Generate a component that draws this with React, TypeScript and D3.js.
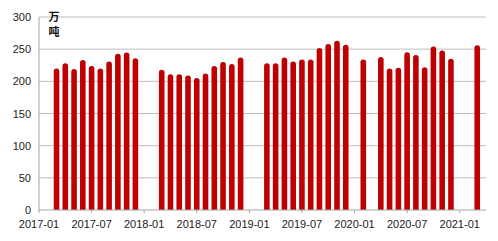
import React from "react";
import * as d3 from "d3";

const months: string[] = [
  "2017-03","2017-04","2017-05","2017-06","2017-07","2017-08","2017-09","2017-10","2017-11","2017-12",
  "2018-03","2018-04","2018-05","2018-06","2018-07","2018-08","2018-09","2018-10","2018-11","2018-12",
  "2019-03","2019-04","2019-05","2019-06","2019-07","2019-08","2019-09","2019-10","2019-11","2019-12",
  "2020-02","2020-04","2020-05","2020-06","2020-07","2020-08","2020-09","2020-10","2020-11","2020-12",
  "2021-03",
];
const values: number[] = [
  220, 228, 219, 233, 224, 220, 231, 243, 245, 236,
  218, 211, 211, 209, 205, 212, 224, 230, 227, 237,
  228, 228, 237, 231, 234, 234, 252, 258, 263, 257,
  234, 238, 220, 221, 245, 241, 222, 254, 248, 235,
  256,
];
const yTicks: number[] = [0, 50, 100, 150, 200, 250, 300];
const xTickLabels: string[] = ["2017-01","2017-07","2018-01","2018-07","2019-01","2019-07","2020-01","2020-07","2021-01"];
const unitLabel: string[] = ["万", "吨"];

const W = 498, H = 241;
const left = 39, right = 486, top = 17, bottom = 210;

function monthIndex(s: string): number {
  const [y, m] = s.split("-").map(Number);
  return (y - 2017) * 12 + (m - 1);
}

export default function App() {
  const x = d3.scaleLinear().domain([0, 51]).range([left, right]);
  const y = d3.scaleLinear().domain([0, 300]).range([bottom, top]);
  const bw = 5.6;
  const r = bw / 2;
  const numFont = "'Liberation Sans', Arial, sans-serif";
  const cjkFont = "'Noto Sans CJK SC', sans-serif";
  return (
    <svg width={W} height={H} style={{ position: "absolute", left: 0, top: 0, background: "#fff" }}>
      {yTicks.filter((t) => t > 0).map((t) => (
        <line key={t} x1={left} x2={right} y1={y(t)} y2={y(t)} stroke="#bdbdbd" strokeWidth={1} />
      ))}
      {months.map((m, i) => {
        const cx = x(monthIndex(m));
        const y0 = y(0);
        const y1 = y(values[i]);
        const p = d3.path();
        p.moveTo(cx - r, y0);
        p.lineTo(cx - r, y1 + r);
        p.arc(cx, y1 + r, r, Math.PI, 0);
        p.lineTo(cx + r, y0);
        p.closePath();
        return <path key={m} d={p.toString()} fill="#bf0000" />;
      })}
      <line x1={left} x2={left} y1={top} y2={bottom} stroke="#a6a6a6" />
      <line x1={left} x2={right} y1={bottom} y2={bottom} stroke="#a6a6a6" />
      {xTickLabels.map((l) => (
        <g key={l}>
          <line x1={x(monthIndex(l))} x2={x(monthIndex(l))} y1={bottom} y2={bottom + 3} stroke="#a6a6a6" />
          <text x={x(monthIndex(l))} y={227.5} textAnchor="middle" fontSize={11} fontFamily={numFont} fill="#222">{l}</text>
        </g>
      ))}
      {yTicks.map((t) => (
        <text key={t} x={31} y={y(t) + 4} textAnchor="end" fontSize={11} fontFamily={numFont} fill="#222">{t}</text>
      ))}
      {unitLabel.map((c, i) => (
        <text key={c} x={54} y={21 + i * 15} textAnchor="middle" fontSize={11} fontWeight="bold" fontFamily={cjkFont} fill="#111">{c}</text>
      ))}
    </svg>
  );
}
